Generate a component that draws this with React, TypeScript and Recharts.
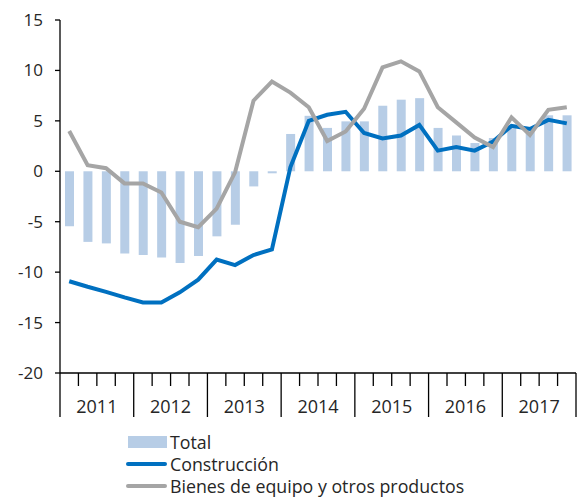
import React from "react";
import { ComposedChart, Bar, Line, XAxis, YAxis } from "recharts";

// quarterly year-on-year rates, 2011 Q1 .. 2017 Q4
const years = ["2011", "2012", "2013", "2014", "2015", "2016", "2017"];
const quarters = years.flatMap((y) => ["T1", "T2", "T3", "T4"].map((q) => `${y}${q}`));

const total = [
  -5.45, -7.0, -7.15, -8.15, -8.3, -8.55, -9.1, -8.4, -6.45, -5.3, -1.5, -0.2,
  3.7, 5.5, 4.3, 4.95, 4.95, 6.5, 7.1, 7.25, 4.3, 3.55, 2.8, 3.3, 4.6, 4.4, 5.55, 5.55,
];
const construccion = [
  -10.9, -11.45, -11.95, -12.5, -13.0, -13.0, -12.0, -10.75, -8.75, -9.3, -8.3, -7.75,
  0.4, 5.0, 5.6, 5.9, 3.8, 3.25, 3.55, 4.6, 2.05, 2.4, 2.05, 2.95, 4.5, 4.2, 5.1, 4.75,
];
const bienes = [
  4.0, 0.6, 0.3, -1.2, -1.2, -2.1, -5.0, -5.55, -3.7, -0.1, 7.0, 8.9,
  7.8, 6.35, 3.0, 3.95, 6.2, 10.3, 10.9, 9.9, 6.35, 4.85, 3.35, 2.4, 5.35, 3.6, 6.1, 6.35,
];
const yTicks = [-20, -15, -10, -5, 0, 5, 10, 15];

const data = quarters.map((q, i) => ({
  q,
  total: total[i],
  construccion: construccion[i],
  bienes: bienes[i],
}));

const W = 581;
const H = 498;
const M = { top: 20, right: 5, left: 0, bottom: 80 };
const Y_W = 60;
const QPX = (W - M.left - M.right - Y_W) / quarters.length;
const FONT = "'Open Sans', sans-serif";
const TXT = "#262626";

const COLORS = { total: "#B7CDE6", construccion: "#0070C0", bienes: "#A5A5A5" };

// ticks sit between quarters; long ticks split the years, labels centred in each year
const QuarterTick = (props: any) => {
  const { x, y, index } = props;
  const left = x - QPX / 2;
  const isYear = index % 4 === 0;
  const last = index === quarters.length - 1;
  return (
    <g>
      <line x1={left} x2={left} y1={y} y2={y + (isYear ? 44 : 13)} stroke="#000" strokeWidth={1.3} />
      {last && <line x1={x + QPX / 2} x2={x + QPX / 2} y1={y} y2={y + 44} stroke="#000" strokeWidth={1.3} />}
      {isYear && (
        <text
          x={left + 2 * QPX}
          y={y + 33}
          textAnchor="middle"
          dominantBaseline="central"
          fontSize={18}
          fontFamily={FONT}
          fill={TXT}
        >
          {years[index / 4]}
        </text>
      )}
    </g>
  );
};

const legendItems = [
  { key: "total", label: "Total", kind: "box" },
  { key: "construccion", label: "Construcción", kind: "line" },
  { key: "bienes", label: "Bienes de equipo y otros productos", kind: "line" },
];

export default function App() {
  return (
    <div style={{ position: "absolute", left: 0, top: 0, width: W, height: H, background: "#fff" }}>
      <ComposedChart width={W} height={H} data={data} margin={M}>
        <XAxis
          dataKey="q"
          interval={0}
          height={45}
          tickLine={false}
          tickSize={0}
          tickMargin={0}
          axisLine={{ stroke: "#000", strokeWidth: 1.3 }}
          tick={<QuarterTick />}
        />
        <YAxis
          domain={[-20, 15]}
          ticks={yTicks}
          interval={0}
          width={Y_W}
          tickSize={5}
          tickMargin={12}
          axisLine={{ stroke: "#000", strokeWidth: 1.3 }}
          tickLine={{ stroke: "#000", strokeWidth: 1.3 }}
          tick={{ fontSize: 17, fontFamily: FONT, fill: TXT }}
        />
        <Bar dataKey="total" fill={COLORS.total} barSize={9} isAnimationActive={false} />
        <Line
          type="linear"
          dataKey="construccion"
          stroke={COLORS.construccion}
          strokeWidth={4}
          dot={false}
          isAnimationActive={false}
        />
        <Line
          type="linear"
          dataKey="bienes"
          stroke={COLORS.bienes}
          strokeWidth={4}
          dot={false}
          isAnimationActive={false}
        />
      </ComposedChart>
      <div style={{ position: "absolute", left: 126, top: 431, fontFamily: FONT, fontSize: 17.8, color: TXT }}>
        {legendItems.map((it) => (
          <div key={it.key} style={{ display: "flex", alignItems: "center", height: 22 }}>
            <div style={{ width: 41, display: "flex", justifyContent: "flex-end", marginRight: 3 }}>
              {it.kind === "box" ? (
                <div style={{ width: 39, height: 12, background: (COLORS as any)[it.key] }} />
              ) : (
                <div style={{ width: 41, height: 4, borderRadius: 2, background: (COLORS as any)[it.key] }} />
              )}
            </div>
            <span style={{ lineHeight: "22px" }}>{it.label}</span>
          </div>
        ))}
      </div>
    </div>
  );
}
